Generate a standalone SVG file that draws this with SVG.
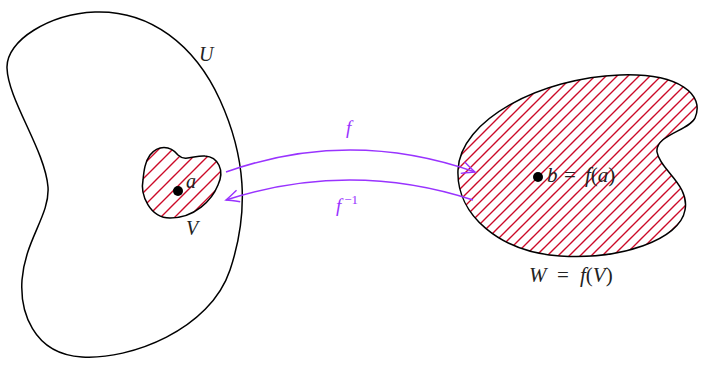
<svg xmlns="http://www.w3.org/2000/svg" width="708" height="366" viewBox="0 0 708 366">
<defs>
<pattern id="hatchW" patternUnits="userSpaceOnUse" width="11" height="11">
<path d="M 0 11 L 11 0 M -1 1 L 1 -1 M 10 12 L 12 10" stroke="#cc0a28" stroke-width="1.4"/>
</pattern>
<pattern id="hatchV" patternUnits="userSpaceOnUse" width="14" height="14">
<path d="M 0 14 L 14 0 M -1 1 L 1 -1 M 13 15 L 15 13" stroke="#cc0a28" stroke-width="1.4"/>
</pattern>
<marker id="to" viewBox="-15 -8 17 16" markerWidth="17" markerHeight="16" refX="0" refY="0" orient="auto" markerUnits="userSpaceOnUse">
<path d="M -13 -6 Q -4 -1.5 0 0 Q -4 1.5 -13 6" fill="none" stroke="#9933ff" stroke-width="1.4"/>
</marker>
</defs>
<style>
.outline{fill:none;stroke:#000;stroke-width:1.5}
.hatched{stroke:#000;stroke-width:1.5}
.math{font-family:"Liberation Serif","DejaVu Serif",serif;font-style:italic;font-size:20px;fill:#222}
.big{font-size:21px}
.rm{font-style:normal}
.arrow{fill:none;stroke:#9933ff;stroke-width:1.5}
.alabel{font-family:"Liberation Serif","DejaVu Serif",serif;font-style:italic;font-size:19px;fill:#9933ff}
</style>
<rect width="708" height="366" fill="#fff"/>
<g id="U">
<path class="outline" d="M 95 12 C 150 10, 195 45, 220 100 C 245 155, 250 210, 230 270 C 210 330, 130 360, 82 357 C 32 354, 20 310, 22 280 C 25 240, 50 215, 48 187 C 45 150, 8 100, 7 68 C 6 40, 50 14, 95 12 Z"/>
<text class="math" x="199" y="61">U</text>
</g>
<g id="V">
<path class="hatched" fill="url(#hatchV)" d="M 150 155 C 158 145, 170 145, 178 155 C 185 162, 195 155, 205 156 C 218 157, 225 170, 218 185 C 212 200, 195 218, 170 218 C 150 218, 140 195, 143 180 C 144 170, 145 162, 150 155 Z"/>
<circle cx="178" cy="191" r="5" fill="#000"/>
<text class="math" x="186" y="188">a</text>
<text class="math" x="186" y="235">V</text>
</g>
<g id="W">
<path class="hatched" fill="url(#hatchW)" d="M 458 170 C 460 120, 540 78, 620 75 C 680 73, 705 95, 695 118 C 690 130, 655 135, 657 152 C 660 170, 690 185, 685 210 C 680 240, 620 260, 560 256 C 500 252, 456 215, 458 170 Z"/>
<circle cx="538" cy="177" r="5" fill="#000"/>
<text class="math big" y="182"><tspan x="547">b</tspan><tspan class="rm" x="564">=</tspan><tspan x="585">f</tspan><tspan class="rm">(</tspan>a<tspan class="rm">)</tspan></text>
<text class="math big" y="282"><tspan x="529">W</tspan><tspan class="rm" x="557">=</tspan><tspan x="580">f</tspan><tspan class="rm">(</tspan>V<tspan class="rm">)</tspan></text>
</g>
<g id="connectors">
<path class="arrow" d="M 226 172 Q 350 128 475 172" marker-end="url(#to)"/>
<path class="arrow" d="M 473 200 Q 350 160 226 200" marker-end="url(#to)"/>
<text class="alabel" x="346" y="134">f</text>
<text class="alabel" x="336" y="212">f<tspan font-style="normal" font-size="13" dx="3" dy="-8">−1</tspan></text>
</g>
</svg>
